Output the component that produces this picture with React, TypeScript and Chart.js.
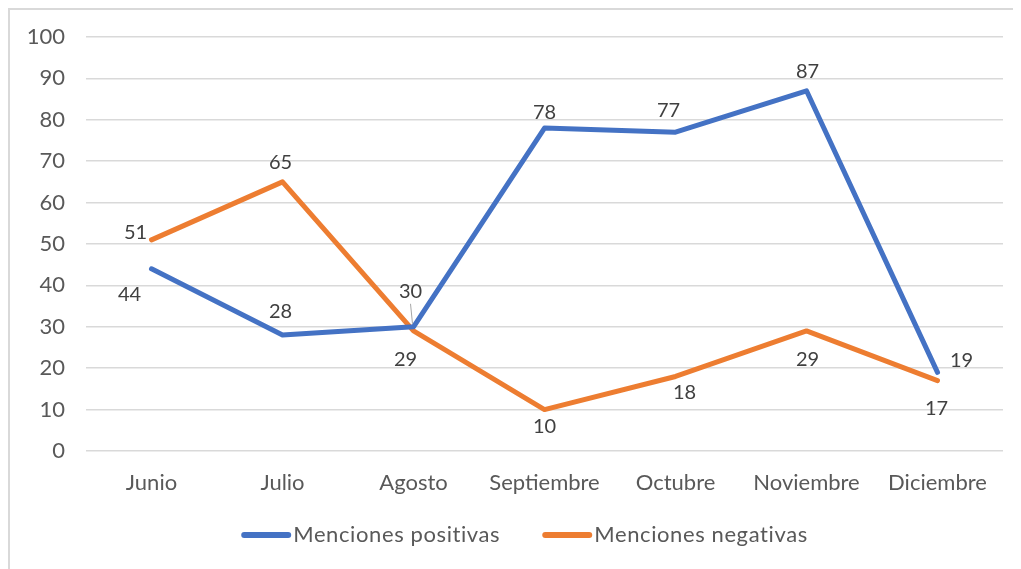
import React, { useEffect, useRef } from "react";
import { Chart, registerables } from "chart.js";

Chart.register(...registerables);

const categories = ["Junio", "Julio", "Agosto", "Septiembre", "Octubre", "Noviembre", "Diciembre"];
const positivas = [44, 28, 30, 78, 77, 87, 19];
const negativas = [51, 65, 29, 10, 18, 29, 17];
const yTicks = [0, 10, 20, 30, 40, 50, 60, 70, 80, 90, 100];
const seriesNames = ["Menciones positivas", "Menciones negativas"];
const seriesColors = ["#4472C4", "#ED7D31"];

// label offsets (dx, dy) from each point
const posLabelOffsets: [number, number][] = [[-22, 26], [-2, -24], [-3, -35], [0, -16], [-7, -22], [1, -19], [24, -12]];
const negLabelOffsets: [number, number][] = [[-16, -7], [-2, -19], [-8, 29], [0, 17], [9, 16], [1, 29], [-1, 28]];

const FONT = "Lato, 'Open Sans', sans-serif";

const labelPlugin = {
  id: "dataLabels",
  afterDatasetsDraw(chart: any) {
    const ctx = chart.ctx;
    const offs = [posLabelOffsets, negLabelOffsets];
    ctx.save();
    ctx.font = `20px ${FONT}`;
    ctx.fillStyle = "#404040";
    ctx.textAlign = "center";
    ctx.textBaseline = "middle";
    chart.data.datasets.forEach((ds: any, di: number) => {
      const meta = chart.getDatasetMeta(di);
      meta.data.forEach((pt: any, i: number) => {
        const [dx, dy] = offs[di][i];
        ctx.fillText(String(ds.data[i]), pt.x + dx, pt.y + dy);
        if (di === 0 && i === 2) {
          ctx.strokeStyle = "#A6A6A6";
          ctx.lineWidth = 1;
          ctx.beginPath();
          ctx.moveTo(pt.x + dx, pt.y + dy + 12);
          ctx.lineTo(pt.x - 1, pt.y - 3);
          ctx.stroke();
        }
      });
    });
    ctx.restore();
  },
};

const legendPlugin = {
  id: "customLegend",
  afterDraw(chart: any) {
    const ctx = chart.ctx;
    ctx.save();
    ctx.font = `22px ${FONT}`;
    (ctx as any).letterSpacing = "0.6px";
    ctx.textBaseline = "middle";
    ctx.textAlign = "left";
    const lineW = 50;
    const gap = 2;
    const itemGap = 42;
    const widths = seriesNames.map((n) => ctx.measureText(n).width);
    const total = widths.reduce((a, w) => a + lineW + gap + w, 0) + itemGap;
    let x = chart.width / 2 + 9 - total / 2;
    const y = 525;
    seriesNames.forEach((n, i) => {
      ctx.strokeStyle = seriesColors[i];
      ctx.lineWidth = 6;
      ctx.lineCap = "round";
      ctx.beginPath();
      ctx.moveTo(x + 3, y);
      ctx.lineTo(x + lineW - 3, y);
      ctx.stroke();
      ctx.fillStyle = "#595959";
      ctx.fillText(n, x + lineW + gap, y);
      x += lineW + gap + widths[i] + itemGap;
    });
    ctx.restore();
  },
};

export default function App() {
  const ref = useRef<HTMLCanvasElement>(null);
  useEffect(() => {
    if (!ref.current) return;
    const chart = new Chart(ref.current, {
      type: "line",
      data: {
        labels: categories,
        datasets: [
          {
            label: seriesNames[0],
            data: positivas,
            borderColor: seriesColors[0],
            backgroundColor: seriesColors[0],
            borderWidth: 5,
            pointRadius: 0,
            tension: 0,
            borderCapStyle: "round",
            borderJoinStyle: "round",
          },
          {
            label: seriesNames[1],
            data: negativas,
            borderColor: seriesColors[1],
            backgroundColor: seriesColors[1],
            borderWidth: 5,
            pointRadius: 0,
            tension: 0,
            borderCapStyle: "round",
            borderJoinStyle: "round",
          },
        ],
      },
      options: {
        animation: false,
        responsive: false,
        layout: { padding: { left: 0, top: 27, right: 18, bottom: 46 } },
        plugins: {
          legend: { display: false },
          tooltip: { enabled: false },
        },
        scales: {
          x: {
            offset: true,
            grid: { display: false },
            border: { display: false },
            ticks: { font: { size: 22, family: FONT }, color: "#595959", padding: 11 },
            afterFit: (s: any) => { s.height = 72; s.paddingLeft = 0; s.paddingRight = 0; },
          },
          y: {
            min: 0,
            max: 100,
            afterBuildTicks: (s: any) => { s.ticks = yTicks.map((v) => ({ value: v })); },
            grid: { color: "#D9D9D9", lineWidth: 1.5, drawTicks: false },
            border: { display: false },
            ticks: { font: { size: 22, family: FONT }, color: "#595959", padding: 21 },
            afterFit: (s: any) => { s.width = 76; s.paddingTop = 0; s.paddingBottom = 0; },
          },
        },
      },
      plugins: [labelPlugin, legendPlugin],
    });
    return () => chart.destroy();
  }, []);
  return (
    <div style={{ position: "relative", width: 1013, height: 561, borderLeft: "2px solid #D9D9D9", borderTop: "2px solid #D9D9D9", boxSizing: "border-box", background: "#fff" }}>
      <canvas ref={ref} width={1011} height={559} style={{ position: "absolute", left: 0, top: 0 }} />
    </div>
  );
}
